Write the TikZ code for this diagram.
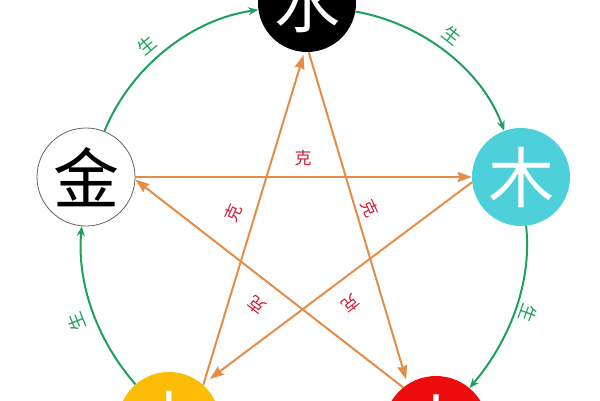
\documentclass[tikz,border=0pt]{standalone}
\usepackage{fontspec}
\newfontfamily\cjk{Noto Sans CJK SC}
\usetikzlibrary{arrows.meta}
\definecolor{shengG}{RGB}{30,160,95}
\definecolor{keO}{RGB}{228,140,72}
\definecolor{keR}{RGB}{205,30,55}
\definecolor{muC}{RGB}{78,208,218}
\definecolor{huoR}{RGB}{236,12,12}
\definecolor{tuY}{RGB}{250,188,5}
\definecolor{jinB}{RGB}{100,100,100}
\begin{document}
\begin{tikzpicture}[x=1pt,y=1pt,
  elem/.style={circle, minimum size=98pt, inner sep=0pt, font=\cjk\fontsize{66}{66}\selectfont},
  sheng/.style={draw=shengG, line width=2pt, -{Stealth[length=10pt,width=8pt]}, looseness=0.89},
  ke/.style={draw=keO, line width=2pt, -{Stealth[length=14pt,width=10pt,inset=1.5pt]}},
  shenglbl/.style={text=shengG, font=\cjk\fontsize{18}{18}\selectfont, inner sep=0pt},
  kelbl/.style={text=keR, font=\cjk\fontsize{17}{17}\selectfont, inner sep=0pt}]
\useasboundingbox (0,0) rectangle (600,400);
\clip (0,0) rectangle (600,400);
% elements
\node[elem, fill=black, text=white] (shui) at (307,397) {水};
\node[elem, fill=white, draw=jinB, line width=0.8pt, text=black] (jin) at (86,223) {金};
\node[elem, fill=muC, text=white] (mu) at (521,223) {木};
\node[elem, fill=tuY, text=white, minimum size=102pt] (tu) at (169,-23) {\raisebox{9pt}{土}};
\node[elem, fill=huoR, text=white, minimum size=104pt] (huo) at (436,-28) {\raisebox{12pt}{火}};
% generating cycle
\draw[sheng] (jin) to[out=68,in=188] (shui);
\draw[sheng] (shui) to[out=350,in=110] (mu);
\draw[sheng] (mu) to[out=276,in=50] (huo);
\draw[sheng] (tu) to[out=131,in=265] (jin);
% overcoming star
\draw[ke, shorten >=3pt] (tu.48) -- (shui.267);
\draw[ke, shorten >=5pt] (shui.272) -- (huo.123);
\draw[ke] (huo.129) -- (jin.-3);
\draw[ke] (jin.east) -- (mu.west);
\draw[ke, shorten >=9pt] (mu.186) -- (tu.49);
% labels
\node[shenglbl, rotate=40] (s1) at (147,355) {生};
\node[shenglbl, rotate=-38] (s2) at (452,365) {生};
\node[shenglbl, rotate=-110] (s3) at (528,87) {生};
\node[shenglbl, rotate=112] (s4) at (77,78) {生};
\node[kelbl] (k1) at (303,242) {克};
\node[kelbl, rotate=65] (k2) at (233,187) {克};
\node[kelbl, rotate=-65] (k3) at (370,192) {克};
\node[kelbl, rotate=142] (k4) at (257,95) {克};
\node[kelbl, rotate=-142] (k5) at (351,96) {克};
\end{tikzpicture}
\end{document}
